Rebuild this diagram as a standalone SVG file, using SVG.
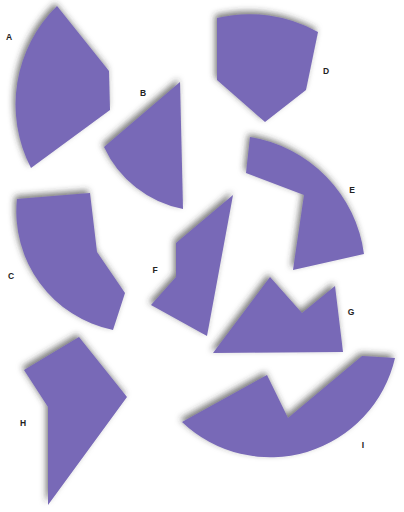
<svg xmlns="http://www.w3.org/2000/svg" width="404" height="512" viewBox="0 0 404 512">
  <style>
    .piece { fill: #7869b7; filter: url(#sh); }
    .lbl { font-family: "Liberation Sans", Arial, sans-serif; font-weight: bold; font-size: 8.5px; fill: #222; text-anchor: middle; }
  </style>
  <defs>
    <filter id="sh" x="-20%" y="-20%" width="140%" height="140%">
      <feDropShadow dx="-2" dy="-3" stdDeviation="3" flood-color="#333" flood-opacity="0.65"/>
    </filter>
  </defs>
  <rect width="404" height="512" fill="#ffffff"/>
  <g id="A"><path class="piece" d="M57,6 L109,71 L110,110 L31,168 A138,138 0 0 1 57,6 Z"/><text class="lbl" x="9" y="40">A</text></g>
  <g id="B"><path class="piece" d="M180,82 L104,147 A110,110 0 0 0 183,209 Z"/><text class="lbl" x="143" y="96">B</text></g>
  <g id="C"><path class="piece" d="M17,199 L90,193 L97,252 L125,293 L113,330 A121,121 0 0 1 17,199 Z"/><text class="lbl" x="11" y="279">C</text></g>
  <g id="D"><path class="piece" d="M217,18 A140,140 0 0 1 318,32 L306,90 L265,122 L217,80 Z"/><text class="lbl" x="326" y="74">D</text></g>
  <g id="E"><path class="piece" d="M250,137 A137,137 0 0 1 364,254 L293,270 L304,195 L246,173 Z"/><text class="lbl" x="352" y="193">E</text></g>
  <g id="F"><path class="piece" d="M233,195 L207,336 L151,305 L176,277 L176,243 Z"/><text class="lbl" x="155" y="273">F</text></g>
  <g id="G"><path class="piece" d="M213,353 L270,277 L302,313 L335,286 L343,352 Z"/><text class="lbl" x="351" y="315">G</text></g>
  <g id="H"><path class="piece" d="M24,370 L79,337 L127,397 L48,505 L48,407 Z"/><text class="lbl" x="23" y="426">H</text></g>
  <g id="I"><path class="piece" d="M182,422 L267,375 L288,418 L362,356 L395,358 A128,128 0 0 1 182,422 Z"/><text class="lbl" x="363" y="448">I</text></g>
  <g id="connectors"></g>
</svg>
